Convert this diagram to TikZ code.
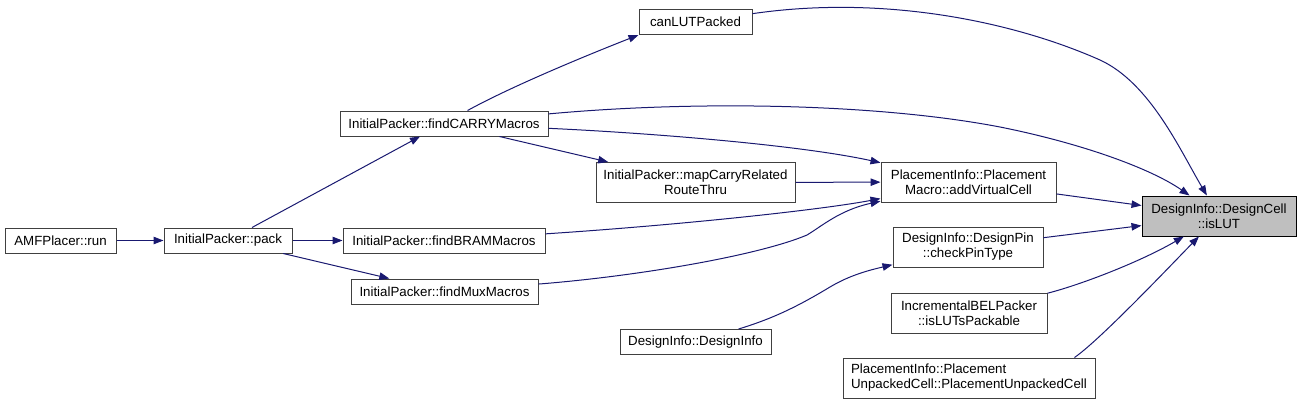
\documentclass[tikz,border=0pt]{standalone}
\usepackage{fontspec}
\setmainfont{Liberation Sans}
\usetikzlibrary{arrows.meta}
\definecolor{edgeblue}{RGB}{25,25,112}
\definecolor{boxgray}{RGB}{191,191,191}

\begin{document}
\begin{tikzpicture}[x=1pt, y=-1pt,
    fn/.style={draw=black!75, line width=1pt, fill=white, inner sep=0pt, minimum height=25pt, align=center, font=\fontsize{13.3}{15}\selectfont},
    fntwo/.style={fn, minimum height=40pt},
    target/.style={fntwo, fill=boxgray, draw=black},
    call/.style={draw=edgeblue, line width=1pt, -{Triangle[length=10pt,width=7.5pt]}}
]
\useasboundingbox (0,0) rectangle (1300,404);

% Callers, left to right
\node[fn, minimum width=111pt] (run) at (60.5,240.5) {AMFPlacer::run};
\node[fn, minimum width=128pt] (pack) at (228,240.5) {InitialPacker::pack};
\node[fn, minimum width=208pt] (findCARRY) at (444,123.5) {InitialPacker::findCARRYMacros};
\node[fn, minimum width=202pt] (findBRAM) at (444,240.5) {InitialPacker::findBRAMMacros};
\node[fn, minimum width=187pt] (findMux) at (444.5,291.5) {InitialPacker::findMuxMacros};
\node[fn, minimum width=113pt] (canLUT) at (695.5,22) {canLUTPacked};
\node[fntwo, minimum width=199pt] (mapCarry) at (695.5,182.5) {InitialPacker::mapCarryRelated\\RouteThru};
\node[fn, minimum width=151pt] (dInfo) at (695.5,342) {DesignInfo::DesignInfo};
\node[fntwo, minimum width=175pt] (addVCell) at (968.5,182) {PlacementInfo::Placement\\Macro::addVirtualCell};
\node[fntwo, minimum width=150pt] (checkPin) at (968,247) {DesignInfo::DesignPin\\::checkPinType};
\node[fntwo, minimum width=156pt] (lutsPack) at (969,313) {IncrementalBELPacker\\::isLUTsPackable};
\node[fntwo, minimum width=252pt, align=left] (unpacked) at (969,378) {PlacementInfo::Placement\\UnpackedCell::PlacementUnpackedCell};

% Function of interest
\node[target, minimum width=154pt] (isLUT) at (1219,216) {DesignInfo::DesignCell\\::isLUT};

% Calls
\draw[call] (run) -- (pack);
\draw[call] (pack) -- (findCARRY);
\draw[call] (pack) -- (findBRAM);
\draw[call] (pack) -- (findMux);
\draw[call] (findCARRY) .. controls (512,86) and (590,54) .. (canLUT.south west);
\draw[call] (findCARRY) -- (mapCarry);
\draw[call] (findCARRY) .. controls (650,133) and (800,145) .. (addVCell);
\draw[call] (mapCarry) -- (addVCell);
\draw[call] (findBRAM) .. controls (680,225) and (820,210) .. (addVCell);
\draw[call] (findMux) .. controls (640,276) and (760,255) .. (807,235) .. controls (822,226) and (840,210) .. (addVCell);
\draw[call] (dInfo) .. controls (775,318) and (800,305) .. (830,287) .. controls (850,275) and (870,270) .. (checkPin);
% Calls into isLUT
\draw[call] (canLUT) .. controls (880,-5) and (1010,20) .. (1100,60) .. controls (1150,83) and (1180,150) .. (isLUT);
\draw[call] (findCARRY) .. controls (700,100) and (880,104) .. (1000,127) .. controls (1080,143) and (1150,168) .. (isLUT);
\draw[call] (addVCell) -- (isLUT);
\draw[call] (checkPin) -- (isLUT);
\draw[call] (lutsPack) .. controls (1080,285) and (1140,262) .. (isLUT);
\draw[call] (unpacked.11) .. controls (1100,340) and (1172,264) .. (isLUT);

\end{tikzpicture}
\end{document}
